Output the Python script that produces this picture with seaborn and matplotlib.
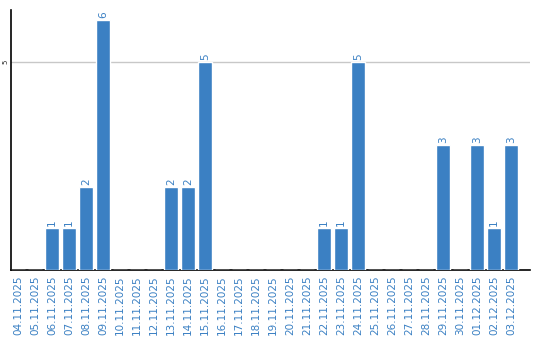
import matplotlib
matplotlib.use("Agg")
import matplotlib.pyplot as plt
import seaborn as sns
import pandas as pd

dates = ["04.11.2025", "05.11.2025", "06.11.2025", "07.11.2025", "08.11.2025",
         "09.11.2025", "10.11.2025", "11.11.2025", "12.11.2025", "13.11.2025",
         "14.11.2025", "15.11.2025", "16.11.2025", "17.11.2025", "18.11.2025",
         "19.11.2025", "20.11.2025", "21.11.2025", "22.11.2025", "23.11.2025",
         "24.11.2025", "25.11.2025", "26.11.2025", "27.11.2025", "28.11.2025",
         "29.11.2025", "30.11.2025", "01.12.2025", "02.12.2025", "03.12.2025"]
counts = [0, 0, 1, 1, 2, 6, 0, 0, 0, 2, 2, 5, 0, 0, 0, 0, 0, 0, 1, 1,
          5, 0, 0, 0, 0, 3, 0, 3, 1, 3]

blue = "#3b80c3"
df = pd.DataFrame({"date": dates, "count": counts})

sns.set_style("white")
plt.rcParams['font.family'] = ['DejaVu Sans']

fig = plt.figure(figsize=(5.4, 3.4), dpi=100)
ax = fig.add_axes([11/540, 1 - 270/340, 519/540, 260/340])

sns.barplot(data=df, x="date", y="count", color=blue, width=0.82,
            saturation=1, ax=ax, zorder=3)

for i, v in enumerate(counts):
    if v > 0:
        ax.text(i, v + 0.05, str(v), rotation=90, ha="center", va="bottom",
                color=blue, fontsize=7.5)

ax.set_ylim(0, 6.24)
ax.set_xlim(-0.41, 30.1)
ax.set_yticks([5])
ax.set_yticklabels(["5"], rotation=90, va="center", fontsize=5)
ax.axhline(5, color="#c8c8c8", lw=1, zorder=1)
ax.tick_params(axis="y", length=0, pad=1.5)
ax.tick_params(axis="x", length=0, pad=4, labelrotation=90, labelsize=7.5,
               labelcolor=blue)
ax.set_xlabel("")
ax.set_ylabel("")
for s in ["top", "right"]:
    ax.spines[s].set_visible(False)
for s in ["left", "bottom"]:
    ax.spines[s].set_color("black")
    ax.spines[s].set_linewidth(1.2)

fig.savefig("out.png", dpi=100)
